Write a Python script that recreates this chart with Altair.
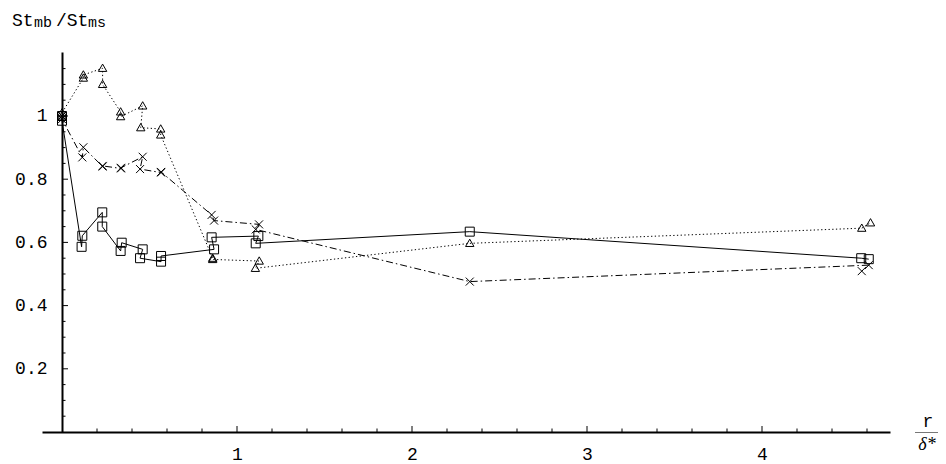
import altair as alt
import pandas as pd

# ---- data, in drawing order ----
sq_x = [0.0, 0.0, 0.112, 0.116, 0.230, 0.230, 0.335, 0.341, 0.461, 0.446, 0.566, 0.566, 0.869, 0.855, 1.122, 1.107, 2.330, 4.567, 4.610]
sq_y = [1.000, 0.985, 0.586, 0.621, 0.695, 0.650, 0.573, 0.599, 0.578, 0.550, 0.539, 0.557, 0.578, 0.616, 0.620, 0.597, 0.634, 0.550, 0.547]

cr_x = [0.0, 0.0, 0.116, 0.122, 0.232, 0.232, 0.337, 0.337, 0.461, 0.446, 0.566, 0.566, 0.855, 0.869, 1.126, 1.107, 2.330, 4.610, 4.570]
cr_y = [1.000, 0.990, 0.869, 0.901, 0.840, 0.842, 0.834, 0.836, 0.871, 0.832, 0.821, 0.823, 0.687, 0.669, 0.657, 0.641, 0.476, 0.528, 0.509]

tr_x = [0.0, 0.0, 0.122, 0.122, 0.232, 0.232, 0.335, 0.335, 0.461, 0.450, 0.564, 0.564, 0.861, 0.861, 1.127, 1.105, 2.330, 4.570, 4.620]
tr_y = [1.000, 1.010, 1.120, 1.130, 1.151, 1.100, 1.013, 0.998, 1.032, 0.963, 0.959, 0.940, 0.550, 0.546, 0.541, 0.518, 0.597, 0.645, 0.662]

# ---- axis ticks ----
x_major = [1, 2, 3, 4]
x_minor = [0.2, 0.4, 0.6, 0.8, 1.2, 1.4, 1.6, 1.8, 2.2, 2.4, 2.6, 2.8,
           3.2, 3.4, 3.6, 3.8, 4.2, 4.4, 4.6]
y_major = [0.2, 0.4, 0.6, 0.8, 1.0]
y_minor = [0.05, 0.1, 0.15, 0.25, 0.3, 0.35, 0.45, 0.5, 0.55, 0.65, 0.7, 0.75,
           0.85, 0.9, 0.95, 1.05, 1.1, 1.15]

XMIN, XMAX = -0.1143, 4.7314
YMIN, YMAX = 0.0, 1.2025
W, H = 848, 380
X0 = (0 - XMIN) / (XMAX - XMIN) * W   # pixel position of x = 0 inside the plot

MONO = "Courier New, Liberation Mono, monospace"

x_scale = alt.Scale(domain=[XMIN, XMAX], nice=False, zero=False)
y_scale = alt.Scale(domain=[YMIN, YMAX], nice=False, zero=False)

x_axis = alt.Axis(values=x_major, format="d", ticks=False, tickSize=0, grid=False,
                  domainColor="black", domainWidth=2, labelFont=MONO, labelFontSize=18,
                  labelColor="black", labelPadding=13, title=None)
y_axis = alt.Axis(values=y_major, format=".1~f", ticks=False, tickSize=0, grid=False,
                  offset=-round(X0), domainColor="black", domainWidth=2, labelFont=MONO,
                  labelFontSize=18, labelColor="black", labelPadding=15, title=None)


def X(f):
    return alt.X(f, type="quantitative", scale=x_scale, axis=x_axis)


def Y(f):
    return alt.Y(f, type="quantitative", scale=y_scale, axis=y_axis)


def series_df(xs, ys):
    return pd.DataFrame({"x": xs, "y": ys, "i": list(range(len(xs)))})


df_sq = series_df(sq_x, sq_y)
df_cr = series_df(cr_x, cr_y)
df_tr = series_df(tr_x, tr_y)

line_sq = alt.Chart(df_sq).mark_line(color="black", strokeWidth=1).encode(
    x=X("x"), y=Y("y"), order="i:Q")
line_cr = alt.Chart(df_cr).mark_line(color="black", strokeWidth=1, strokeDash=[7, 3, 1.5, 3]).encode(
    x=X("x"), y=Y("y"), order="i:Q")
line_tr = alt.Chart(df_tr).mark_line(color="black", strokeWidth=1, strokeDash=[1.3, 2.4]).encode(
    x=X("x"), y=Y("y"), order="i:Q")

pt_sq = alt.Chart(df_sq).mark_point(shape="square", size=81, filled=False, color="black",
                                    strokeWidth=1, opacity=1).encode(x=X("x"), y=Y("y"))
pt_cr = alt.Chart(df_cr).mark_point(shape="M-1,-1L1,1M-1,1L1,-1", size=64, filled=False,
                                    color="black", strokeWidth=1, opacity=1).encode(x=X("x"), y=Y("y"))
pt_tr = alt.Chart(df_tr).mark_point(shape="M0,-1L1,0.75L-1,0.75Z", size=70, filled=False,
                                    color="black", strokeWidth=1, opacity=1).encode(x=X("x"), y=Y("y"))


# ---- inward-pointing tick marks (Mathematica style) ----
def xticks(vals, length):
    d = pd.DataFrame({"v": vals})
    return alt.Chart(d).mark_rule(color="black", strokeWidth=1).encode(
        x=X("v"), y=alt.value(H), y2=alt.value(H - length))


def yticks(vals, length):
    d = pd.DataFrame({"v": vals})
    return alt.Chart(d).mark_rule(color="black", strokeWidth=1).encode(
        y=Y("v"), x=alt.value(X0), x2=alt.value(X0 + length))


ticks = [xticks(x_major, 6), xticks(x_minor, 3.5), yticks(y_major, 6), yticks(y_minor, 3.5)]

# ---- axis titles ----
one = pd.DataFrame({"a": [0]})


def label(text, x, y, size, font=MONO, style="normal", align="left", baseline="alphabetic", color="black"):
    return alt.Chart(one).mark_text(text=text, font=font, fontSize=size, fontStyle=style,
                                    align=align, baseline=baseline, color=color).encode(
        x=alt.value(x), y=alt.value(y))


titles = [
    label("St", -30, -26, 18),
    label("mb", -8, -25, 15),
    label("/St", 14, -26, 18),
    label("ms", 46, -25, 15),
    label("r", 886, 375, 18, align="center"),
    label("δ*", 885, 398, 18, font="Liberation Serif, Times New Roman, serif", style="italic", align="center"),
]

frac = alt.Chart(one).mark_rule(color="#777777", strokeWidth=1).encode(
    x=alt.value(873), x2=alt.value(896), y=alt.value(380.5))

chart = alt.layer(
    line_tr, line_cr, line_sq, pt_tr, pt_cr, pt_sq, *ticks, *titles, frac
).properties(
    width=W, height=H,
    background="white",
    autosize=alt.AutoSizeParams(type="none"),
    padding={"left": 34, "top": 44, "right": 48, "bottom": 32},
).configure_view(stroke=None)

chart.save("out.html", embed_options={"renderer": "svg", "actions": False})
